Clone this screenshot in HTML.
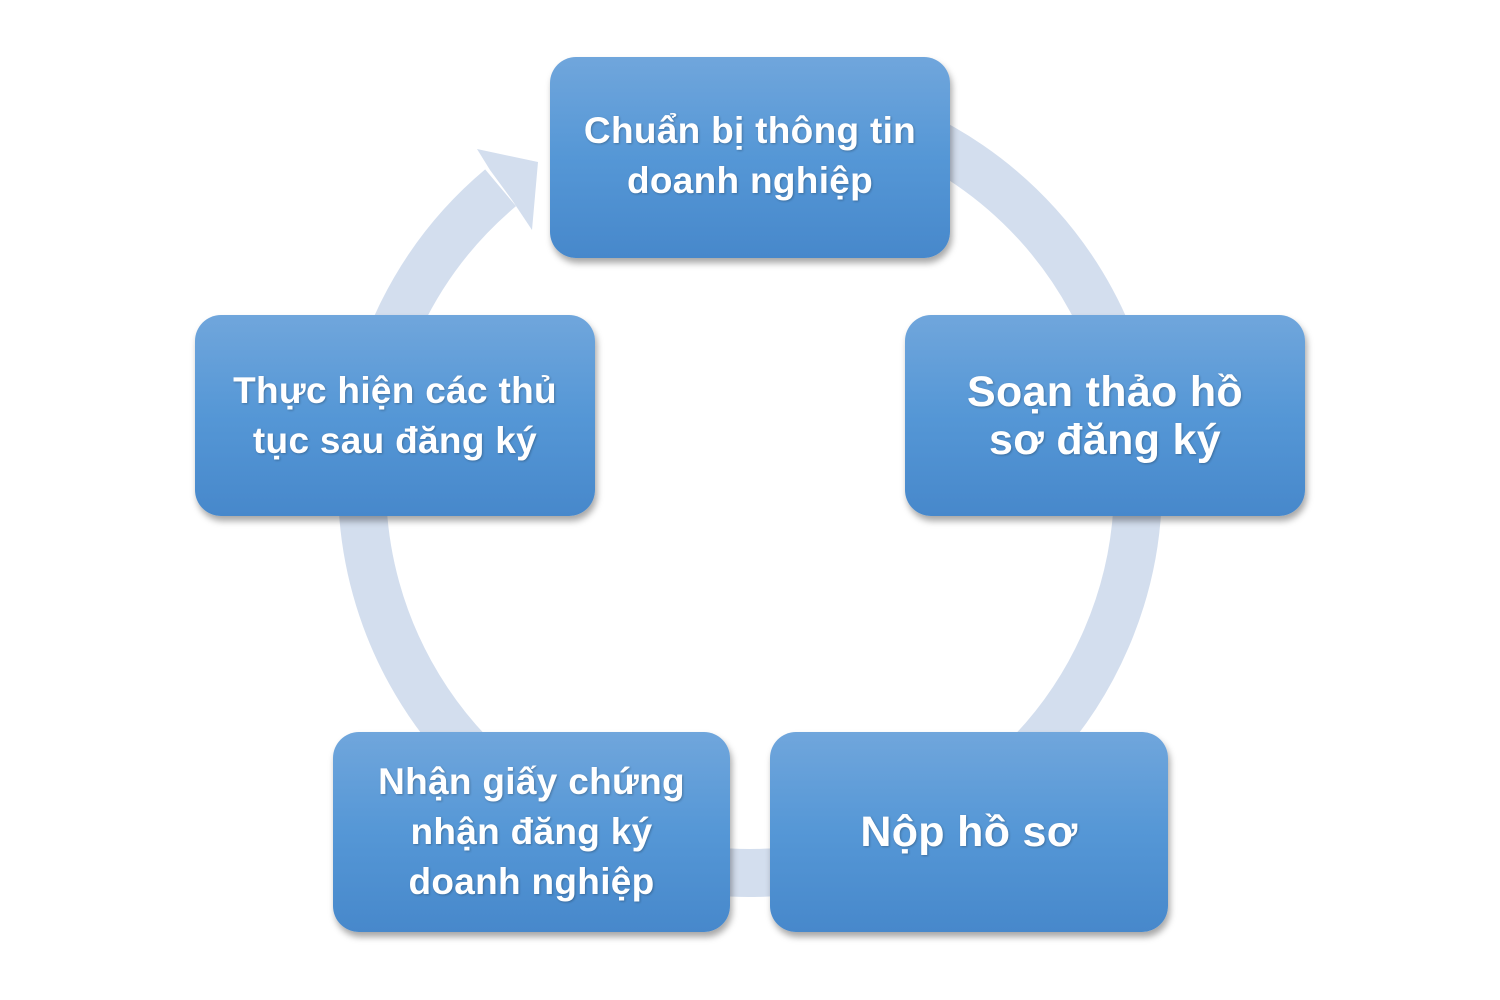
<!DOCTYPE html>
<html><head><meta charset="utf-8"><style>
body{margin:0;width:1500px;height:1000px;background:#fff;position:relative;overflow:hidden;font-family:"Liberation Sans","DejaVu Sans",sans-serif}
.b{position:absolute;border-radius:26px;background:linear-gradient(#70a6dc,#5597d6 50%,#4788cb);box-shadow:2px 5px 7px rgba(0,0,0,.35);color:#fff;font-weight:bold;display:flex;align-items:center;justify-content:center;text-align:center;font-size:37px;line-height:50px;letter-spacing:0.3px;text-shadow:1px 1px 2px rgba(0,0,0,.25)}
.big{font-size:43px;line-height:48px;letter-spacing:0.3px}
</style></head><body>
<svg width="1500" height="1000" style="position:absolute;left:0;top:0">
<path d="M817.4 102.9 A388 388 0 1 1 500.6 187.8" fill="none" stroke="#d3deee" stroke-width="48"/>
<polygon points="477,149 538,162 532,230 512,200 490,170" fill="#d3deee"/>
</svg>
<div class="b" style="left:550px;top:57px;width:400px;height:201px;padding-bottom:4px;box-sizing:border-box">Chuẩn bị thông tin<br>doanh nghiệp</div>
<div class="b big" style="left:905px;top:315px;width:400px;height:201px">Soạn thảo hồ<br>sơ đăng ký</div>
<div class="b big" style="left:770px;top:732px;width:398px;height:200px">Nộp hồ sơ</div>
<div class="b" style="left:333px;top:732px;width:397px;height:200px">Nhận giấy chứng<br>nhận đăng ký<br>doanh nghiệp</div>
<div class="b" style="left:195px;top:315px;width:400px;height:201px">Thực hiện các thủ<br>tục sau đăng ký</div>
</body></html>
